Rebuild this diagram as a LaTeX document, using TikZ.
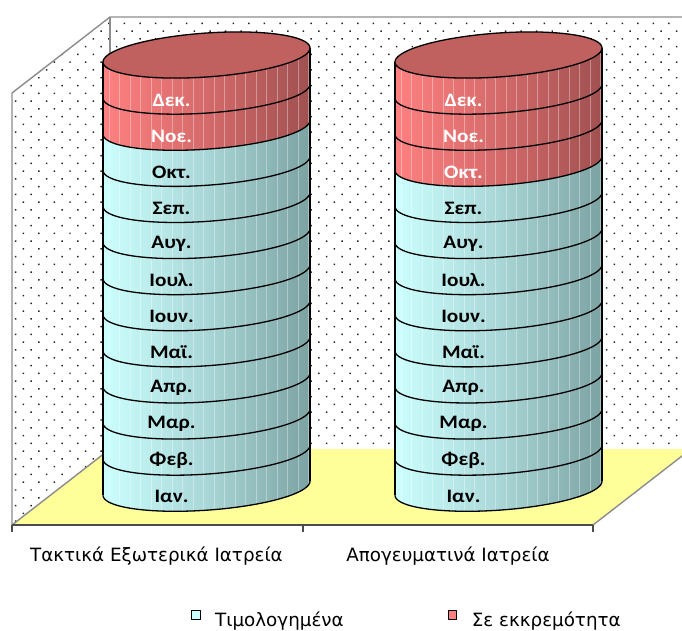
\documentclass[tikz,border=0pt]{standalone}
\usepackage{fontspec}
\setmainfont{DejaVu Sans}
\newfontfamily\barfont{Carlito}[FakeStretch=1.12]
\newfontfamily\axfont{DejaVu Sans}
\usetikzlibrary{patterns.meta}
\definecolor{cyL}{HTML}{CCFFFF}
\definecolor{cyM}{HTML}{A9D6D6}
\definecolor{cyR}{HTML}{7CA2A2}
\definecolor{rdL}{HTML}{FF8080}
\definecolor{rdM}{HTML}{D46A6A}
\definecolor{rdR}{HTML}{A05050}
\definecolor{rdTop}{HTML}{C0605F}
\definecolor{floorc}{HTML}{FFFF99}
\definecolor{wallc}{HTML}{8C8C8C}
\definecolor{dotc}{HTML}{262626}
\tikzset{
  dotwall/.style={pattern={Dots[angle=45,distance=11pt,radius=1.05pt]},pattern color=dotc},
  wall/.style={draw=wallc,line width=1.4pt},
  axisline/.style={draw=black!70,line width=1.2pt},
  redband/.style={left color=rdL,right color=rdR,middle color=rdM},
  cyanband/.style={left color=cyL,right color=cyR,middle color=cyM},
  edge/.style={draw=black,line width=1.3pt},
  stripe/.style={draw=white,opacity=0.35,line width=0.7pt},
  barlbl/.style={font=\barfont\bfseries\fontsize{19}{21}\selectfont,inner sep=0pt},
  axlbl/.style={font=\axfont\fontsize{18.3}{21}\selectfont,inner sep=0pt},
  legbox/.style={draw=black,line width=0.9pt,minimum size=8.5pt,inner sep=0pt},
}
\begin{document}
\begin{tikzpicture}[x=1pt,y=-1pt,line join=round]
\useasboundingbox (0,0) rectangle (682,630);
\clip (0,0) rectangle (682,630);
% walls
\path[dotwall] (110,17) -- (700,17) -- (700,449) -- (110,449) -- cycle;
\path[dotwall] (12,93) -- (110,17) -- (110,449) -- (12,525) -- cycle;
% floor
\fill[floorc] (12,525) -- (593,525) -- (691,449) -- (110,449) -- cycle;
\draw[wall] (12,525) -- (12,93) -- (110,17) -- (700,17);
\draw[wall] (110,17) -- (110,449);
\draw[wall] (12,525) -- (110,449);
\draw[wall] (593,525) -- (691,449);
% axis
\draw[axisline] (12,525) -- (593,525);
\foreach \tx in {12,303,593} \draw[axisline] (\tx,525) -- (\tx,532);
% cylinders
\foreach \cx/\nred/\ci in {206.5/2/a,498.5/3/b}{
  \foreach \k in {0,...,11}{
    \pgfmathsetmacro\ya{55+36.1*\k}
    \pgfmathsetmacro\yb{55+36.1*(\k+1)}
    \ifnum\k<\nred\relax\def\bst{redband}\else\def\bst{cyanband}\fi
    \fill[\bst] plot[variable=\t,domain=180:0,samples=50] ({\cx+103.5*cos(\t)},{\yb-7*cos(\t)+22*sin(\t)})
      -- plot[variable=\t,domain=0:180,samples=50] ({\cx+103.5*cos(\t)},{\ya-7*cos(\t)+22*sin(\t)}) -- cycle;
  }
  \begin{scope}
    \clip plot[variable=\t,domain=180:0,samples=50] ({\cx+103.5*cos(\t)},{488.2-7*cos(\t)+22*sin(\t)})
      -- plot[variable=\t,domain=0:180,samples=50] ({\cx+103.5*cos(\t)},{55-7*cos(\t)+22*sin(\t)}) -- cycle;
    \foreach \s in {0,...,19} \draw[stripe] ({\cx-103.5+6+10.5*\s},0) -- ++(0,600);
  \end{scope}
  \foreach \k in {1,...,12}{
    \pgfmathsetmacro\yb{55+36.1*\k}
    \draw[edge] plot[variable=\t,domain=180:0,samples=50] ({\cx+103.5*cos(\t)},{\yb-7*cos(\t)+22*sin(\t)});
  }
  \draw[edge] ({\cx-103.5},62) -- ({\cx-103.5},495.2);
  \draw[edge] ({\cx+103.5},48) -- ({\cx+103.5},481.2);
  \filldraw[fill=rdTop,edge] plot[variable=\t,domain=0:360,samples=100] ({\cx+103.5*cos(\t)},{55-7*cos(\t)+22*sin(\t)}) -- cycle;
  \foreach \m [count=\k from 0] in {Δεκ.,Νοε.,Οκτ.,Σεπ.,Αυγ.,Ιουλ.,Ιουν.,Μαϊ.,Απρ.,Μαρ.,Φεβ.,Ιαν.}{
    \ifnum\k<\nred\relax\def\tc{white}\else\def\tc{black}\fi
    \node[barlbl,text=\tc] (\ci\k) at ({\cx-35},{100.5+35.95*\k}) {\m};
  }
}
% category labels
\node[axlbl,anchor=base] (cat1) at (156.5,561.5) {Τακτικά Εξωτερικά Ιατρεία};
\node[axlbl,anchor=base] (cat2) at (448,561.5) {Απογευματινά Ιατρεία};
% legend
\node[legbox,fill=cyL] (legA) at (196,615) {};
\node[axlbl,anchor=base west] (legAt) at (215,626.5) {Τιμολογημένα};
\node[legbox,fill=rdL] (legB) at (452.5,615) {};
\node[axlbl,anchor=base west] (legBt) at (471.7,626.5) {Σε εκκρεμότητα};
\end{tikzpicture}
\end{document}
